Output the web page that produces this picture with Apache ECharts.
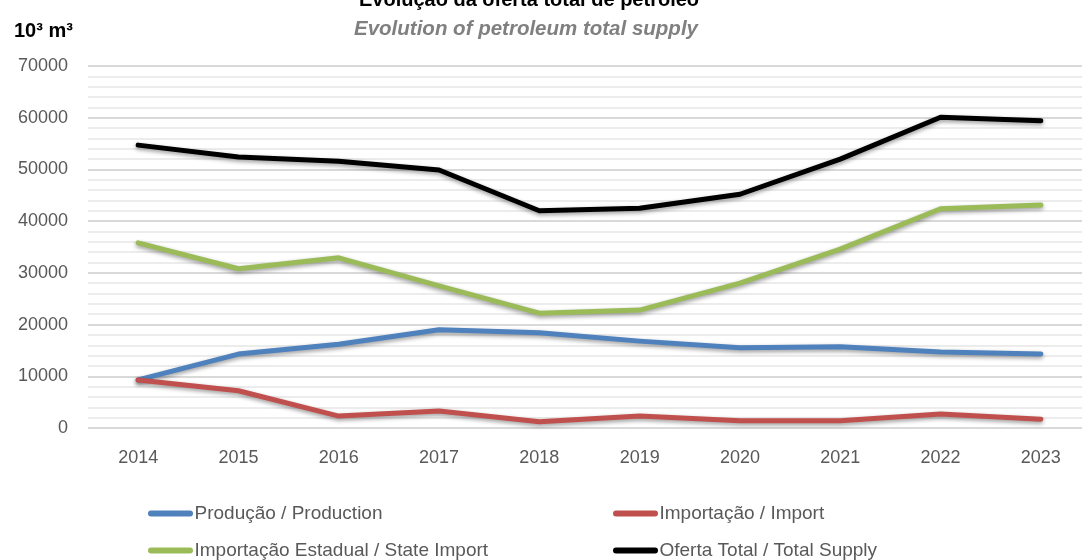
<!DOCTYPE html>
<html>
<head>
<meta charset="utf-8">
<script src="https://cdn.jsdelivr.net/npm/echarts@6/dist/echarts.min.js"></script>
<style>
  html, body { margin: 0; padding: 0; background: #fff; }
  #chart { width: 1082px; height: 560px; }
</style>
</head>
<body>
<div id="chart"></div>
<script>
// data (10^3 m^3)
const years = ['2014', '2015', '2016', '2017', '2018', '2019', '2020', '2021', '2022', '2023']
const production = [9300, 14300, 16200, 19000, 18400, 16800, 15500, 15700, 14700, 14300]
const imports = [9300, 7200, 2300, 3300, 1200, 2300, 1400, 1400, 2700, 1700]
const stateImports = [35800, 30800, 32900, 27500, 22200, 22800, 28000, 34600, 42400, 43100]
const totalSupply = [54700, 52400, 51600, 49900, 42000, 42500, 45200, 52000, 60100, 59400]

const seriesNames = [
  'Produção / Production',
  'Importação / Import',
  'Importação Estadual / State Import',
  'Oferta Total / Total Supply'
]
const colors = ['#4F81BD', '#C0504D', '#9BBB59', '#000000']

const font = '"Liberation Sans", sans-serif'

const chart = echarts.init(document.getElementById('chart'))

function makeLine(name, data, color) {
  return {
    name: name,
    type: 'line',
    data: data,
    symbol: 'none',
    smooth: false,
    lineStyle: {
      width: 5,
      color: color,
      cap: 'round',
      join: 'round',
      shadowColor: 'rgba(0,0,0,0.4)',
      shadowBlur: 4,
      shadowOffsetY: 2
    },
    itemStyle: { color: color }
  }
}

// rounded bar used as the legend marker
const legendIcon = 'path://M3,0 L42,0 A3,3 0 0 1 42,6 L3,6 A3,3 0 0 1 3,0 Z'

function legendAt(name, left, top) {
  return {
    data: [name],
    left: left,
    top: top,
    icon: legendIcon,
    itemWidth: 46,
    itemHeight: 6,
    itemGap: 0,
    textStyle: { fontFamily: font, fontSize: 19, color: '#595959', padding: [0, 0, 0, -4] }
  }
}

const option = {
  animation: false,
  title: [
    {
      text: 'Evolução da oferta total de petróleo',
      left: 524,
      textAlign: 'center',
      top: -15,
      textStyle: { fontFamily: font, fontSize: 20, fontWeight: 'bold', color: '#000' }
    },
    {
      text: 'Evolution of petroleum total supply',
      left: 521,
      textAlign: 'center',
      top: 14,
      textStyle: { fontFamily: font, fontSize: 20.5, fontWeight: 'bold', fontStyle: 'italic', color: '#808080' }
    },
    {
      text: '10³ m³',
      left: 9,
      top: 16,
      textStyle: { fontFamily: font, fontSize: 20, fontWeight: 'bold', color: '#000' }
    }
  ],
  legend: [
    legendAt(seriesNames[0], 143, 499),
    legendAt(seriesNames[1], 608, 499),
    legendAt(seriesNames[2], 143, 536),
    legendAt(seriesNames[3], 608, 536)
  ],
  grid: { left: 88, right: -9, top: 66, bottom: 132, containLabel: false, outerBoundsMode: 'none' },
  xAxis: {
    type: 'category',
    data: years,
    boundaryGap: true,
    axisLine: { show: false },
    axisTick: { show: false },
    axisLabel: { fontFamily: font, fontSize: 18, color: '#595959', margin: 21 }
  },
  yAxis: {
    type: 'value',
    min: 0,
    max: 70000,
    interval: 10000,
    axisLine: { show: false },
    axisTick: { show: false },
    axisLabel: { fontFamily: font, fontSize: 18, color: '#595959', margin: 20, formatter: v => String(v) },
    splitLine: { lineStyle: { color: '#d9d9d9', width: 2 } },
    minorTick: { show: false, splitNumber: 5 },
    minorSplitLine: { show: true, lineStyle: { color: '#ececec', width: 2 } }
  },
  series: [
    makeLine(seriesNames[0], production, colors[0]),
    makeLine(seriesNames[1], imports, colors[1]),
    makeLine(seriesNames[2], stateImports, colors[2]),
    makeLine(seriesNames[3], totalSupply, colors[3])
  ]
}

chart.setOption(option)
</script>
</body>
</html>
